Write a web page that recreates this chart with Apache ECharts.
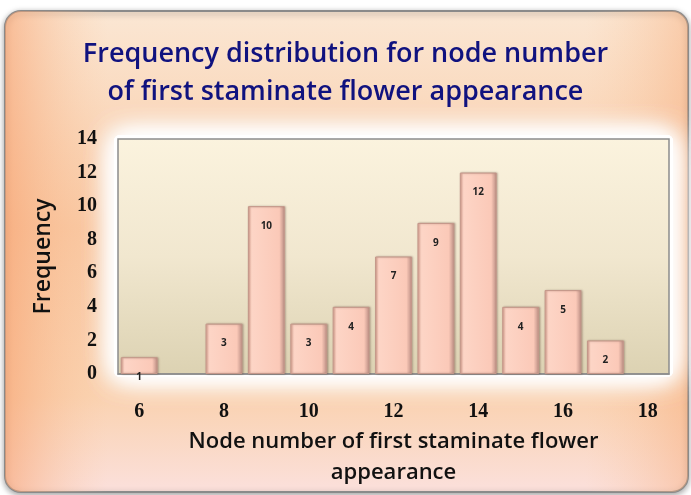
<!DOCTYPE html>
<html lang="en">
  <head>
    <meta charset="UTF-8" />
    <title>Frequency distribution</title>
    <script src="https://cdn.jsdelivr.net/npm/echarts@6/dist/echarts.min.js"></script>
    <style>
      html, body { margin: 0; padding: 0; background: #ffffff; }
      #main { width: 691px; height: 495px; }
    </style>
  </head>
  <body>
    <div id="main"></div>
    <script>
      // node number categories (6..18) and frequency per node
      const nodeNumbers = ["6", "7", "8", "9", "10", "11", "12", "13", "14", "15", "16", "17", "18"];
      const frequency = [1, null, 3, 10, 3, 4, 7, 9, 12, 4, 5, 2, null];
      const yTicks = { min: 0, max: 14, interval: 2 };

      const chart = echarts.init(document.getElementById("main"));

      // soft white glow behind the plot area, built from stacked blurred rects
      const glow = [];
      [30, 30, 30, 18].forEach((blur) => {
        glow.push({
          type: "rect",
          z: -8,
          shape: { x: 114, y: 135, width: 559, height: 242, r: 6 },
          style: { fill: "#ffffff", shadowBlur: blur, shadowColor: "#ffffff" },
        });
      });

      const option = {
        animation: false,
        graphic: [
          {
            type: "rect",
            z: -10,
            shape: { x: 5, y: 11, width: 683, height: 481, r: 16 },
            style: {
              fill: new echarts.graphic.LinearGradient(0, 0, 0, 1, [
                { offset: 0, color: "#fbe7d4" },
                { offset: 0.45, color: "#f9c8a2" },
                { offset: 0.8, color: "#fad2b0" },
                { offset: 1, color: "#fbe0dc" },
              ]),
              stroke: "#8a8a8a",
              lineWidth: 2,
              shadowBlur: 6,
              shadowColor: "rgba(0,0,0,0.35)",
              shadowOffsetY: 2,
            },
          },
          {
            type: "rect",
            z: -9,
            shape: { x: 5, y: 11, width: 683, height: 481, r: 16 },
            style: {
              fill: new echarts.graphic.LinearGradient(0, 0, 1, 0, [
                { offset: 0, color: "rgba(247,160,110,0.6)" },
                { offset: 0.15, color: "rgba(250,200,160,0)" },
                { offset: 0.85, color: "rgba(250,200,160,0)" },
                { offset: 1, color: "rgba(247,170,120,0.45)" },
              ]),
            },
          },
          ...glow,
        ],
        title: {
          text: "Frequency distribution for node number\nof first staminate flower appearance",
          left: "center",
          top: 30,
          textStyle: {
            fontFamily: "Open Sans",
            fontSize: 27,
            fontWeight: 600,
            color: "#10127f",
            lineHeight: 38,
          },
        },
        grid: {
          left: 118,
          right: 22,
          top: 139,
          bottom: 121,
          outerBoundsMode: "none",
          containLabel: false,
          show: true,
          borderColor: "#8c8c8c",
          borderWidth: 1.5,
          backgroundColor: new echarts.graphic.LinearGradient(0, 0, 0, 1, [
            { offset: 0, color: "#fbf3de" },
            { offset: 0.5, color: "#f1e7cf" },
            { offset: 1, color: "#dcd2b2" },
          ]),
        },
        xAxis: {
          type: "category",
          data: nodeNumbers,
          name: "Node number of first staminate flower\nappearance",
          nameLocation: "middle",
          nameGap: 52,
          nameTextStyle: {
            fontFamily: "Open Sans",
            fontSize: 22,
            fontWeight: 600,
            color: "#111111",
            lineHeight: 31,
          },
          axisLine: { lineStyle: { color: "#8c8c8c", width: 1.5 } },
          axisTick: { show: false },
          axisLabel: {
            interval: 1,
            margin: 28,
            fontFamily: "Liberation Serif",
            fontWeight: "bold",
            fontSize: 20,
            color: "#111111",
          },
        },
        yAxis: {
          type: "value",
          min: yTicks.min,
          max: yTicks.max,
          interval: yTicks.interval,
          name: "Frequency",
          nameLocation: "middle",
          nameGap: 63,
          nameTextStyle: {
            fontFamily: "Open Sans",
            fontSize: 23,
            fontWeight: 600,
            color: "#111111",
          },
          axisLine: { show: false },
          axisTick: { show: false },
          splitLine: { show: false },
          axisLabel: {
            margin: 21,
            fontFamily: "Liberation Serif",
            fontWeight: "bold",
            fontSize: 20,
            color: "#111111",
          },
        },
        series: [
          {
            type: "bar",
            data: frequency,
            barCategoryGap: "13%",
            itemStyle: {
              color: new echarts.graphic.LinearGradient(0, 0, 1, 0, [
                { offset: 0, color: "#e7ab9a" },
                { offset: 0.1, color: "#fdd5c6" },
                { offset: 0.85, color: "#fbc9b8" },
                { offset: 1, color: "#b98c82" },
              ]),
              borderColor: "#c4978a",
              borderWidth: 1,
              shadowBlur: 2,
              shadowColor: "rgba(90,60,50,0.35)",
              shadowOffsetX: 1,
            },
            label: {
              show: true,
              position: "insideTop",
              distance: 15,
              fontFamily: "Open Sans",
              fontSize: 10,
              fontWeight: "bold",
              color: "#222222",
            },
          },
        ],
      };

      chart.setOption(option);
    </script>
  </body>
</html>
